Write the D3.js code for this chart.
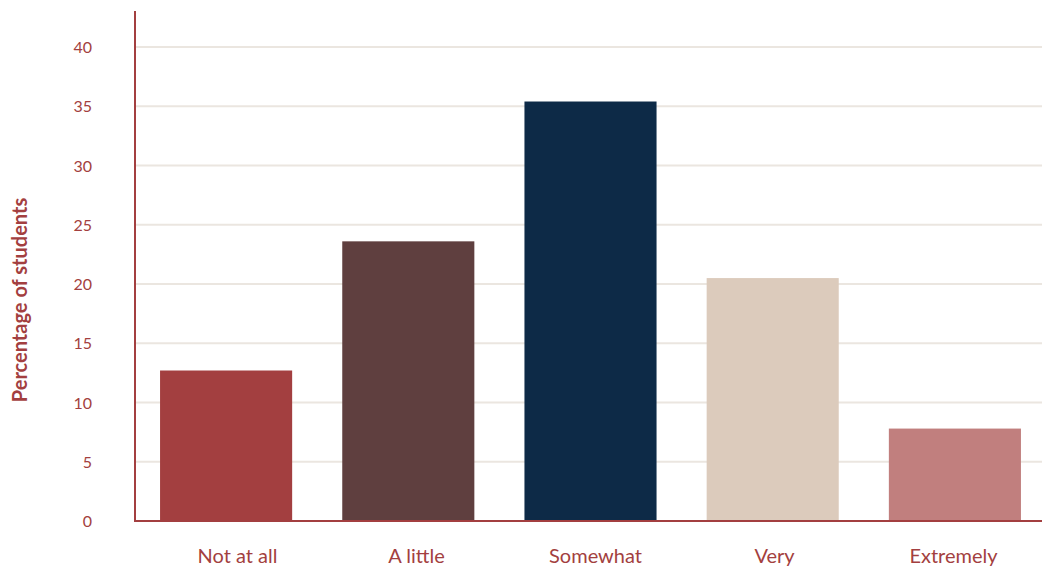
<!DOCTYPE html>
<html>
<head>
<meta charset="utf-8">
<script src="https://cdn.jsdelivr.net/npm/d3@7"></script>
<style>
  body { margin: 0; background: #fff; }
  text { font-family: Lato, "Open Sans", sans-serif; }
</style>
</head>
<body>
<svg id="chart" width="1042" height="569"></svg>
<script>
const categories = ["Not at all", "A little", "Somewhat", "Very", "Extremely"];
const values = [12.7, 23.6, 35.4, 20.5, 7.8];
const colors = ["#a33f40", "#5f3f3f", "#0d2a47", "#dccbbc", "#c17f7e"];
const yTicks = [0, 5, 10, 15, 20, 25, 30, 35, 40];

const svg = d3.select("#chart");
const margin = {left: 135, top: 11, bottom: 48};
const width = 1046;
const height = 569;

const x = d3.scaleBand()
    .domain(categories)
    .range([margin.left, width])
    .paddingInner(0.275)
    .paddingOuter(0.1375);

// the category labels sit on a slightly different spacing than the bars
const xLabel = d3.scaleBand()
    .domain(categories)
    .range([148, 1043]);

const y = d3.scaleLinear()
    .domain([0, 40])
    .range([height - margin.bottom, 47]);

// gridlines
svg.append("g")
    .selectAll("line")
    .data(yTicks.slice(1))
    .enter().append("line")
    .attr("x1", margin.left)
    .attr("x2", 1042)
    .attr("y1", d => y(d))
    .attr("y2", d => y(d))
    .attr("stroke", "#ebe6e0")
    .attr("stroke-width", 2);

// tick labels
svg.append("g")
    .selectAll("text")
    .data(yTicks)
    .enter().append("text")
    .attr("x", 92)
    .attr("y", d => y(d) + 6)
    .attr("text-anchor", "end")
    .attr("fill", "#a33f40")
    .attr("font-size", "16px")
    .text(d => d);

// bars
svg.append("g")
    .selectAll("rect")
    .data(values)
    .enter().append("rect")
    .attr("x", (d, i) => x(categories[i]))
    .attr("y", d => y(d))
    .attr("width", x.bandwidth())
    .attr("height", d => y(0) - y(d))
    .attr("fill", (d, i) => colors[i]);

// axes lines
svg.append("line")
    .attr("x1", margin.left).attr("x2", margin.left)
    .attr("y1", margin.top).attr("y2", y(0) + 1)
    .attr("stroke", "#a33f40").attr("stroke-width", 2);
svg.append("line")
    .attr("x1", margin.left - 1).attr("x2", 1042)
    .attr("y1", y(0)).attr("y2", y(0))
    .attr("stroke", "#a33f40").attr("stroke-width", 2);

// category labels
svg.append("g")
    .selectAll("text")
    .data(categories)
    .enter().append("text")
    .attr("x", d => xLabel(d) + xLabel.bandwidth() / 2)
    .attr("y", 563)
    .attr("text-anchor", "middle")
    .attr("fill", "#a33f40")
    .attr("font-size", "20px")
    .text(d => d);

// y title
svg.append("text")
    .attr("transform", "translate(27, 300) rotate(-90)")
    .attr("text-anchor", "middle")
    .attr("fill", "#a33f40")
    .attr("font-size", "20px")
    .attr("font-weight", "bold")
    .text("Percentage of students");
</script>
</body>
</html>
